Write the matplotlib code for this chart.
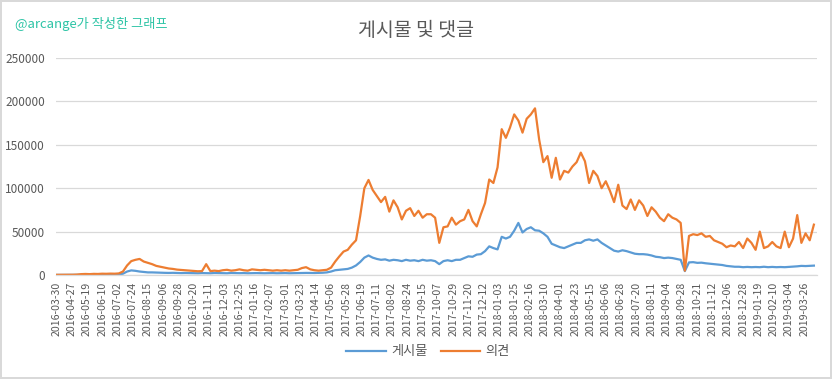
import numpy as np
import matplotlib
matplotlib.use("Agg")
import matplotlib.pyplot as plt

plt.rcParams['font.family'] = ['Noto Sans CJK KR', 'DejaVu Sans']

# daily category axis, sampled every 6 days (values in thousands)
STEP = 6
N_DAYS = 1097

tick_labels = [
    "2016-03-30", "2016-04-27", "2016-05-19", "2016-06-10", "2016-07-02", "2016-07-24",
    "2016-08-15", "2016-09-06", "2016-09-28", "2016-10-20", "2016-11-11", "2016-12-03",
    "2016-12-25", "2017-01-16", "2017-02-07", "2017-03-01", "2017-03-23", "2017-04-14",
    "2017-05-06", "2017-05-28", "2017-06-19", "2017-07-11", "2017-08-02", "2017-08-24",
    "2017-09-15", "2017-10-07", "2017-10-29", "2017-11-20", "2017-12-12", "2018-01-03",
    "2018-01-25", "2018-02-16", "2018-03-10", "2018-04-01", "2018-04-23", "2018-05-15",
    "2018-06-06", "2018-06-28", "2018-07-20", "2018-08-11", "2018-09-04", "2018-09-28",
    "2018-10-21", "2018-11-12", "2018-12-06", "2018-12-28", "2019-01-19", "2019-02-10",
    "2019-03-04", "2019-03-26",
]
TICK_EVERY = 22

posts_k = [
    0.1, 0.1, 0.1, 0.1, 0.1, 0.2,
    0.3, 0.3, 0.3, 0.4, 0.4, 0.4, 0.5, 0.5, 0.5, 0.6,
    1.5, 4.0, 5.3, 4.8, 4.0, 3.5, 3.0, 3.0, 2.8, 2.6,
    2.5, 2.4, 2.5, 2.3, 2.2, 2.3, 2.2, 2.1, 2.0, 2.2,
    2.1, 2.0, 2.3, 2.2, 2.1, 2.0, 2.3, 2.2, 2.1, 2.2,
    2.0, 2.1, 2.2, 2.1, 2.0, 2.1, 2.2, 2.0, 2.1, 2.2,
    2.0, 2.1, 2.2, 2.3, 2.4, 2.3, 2.3, 2.4, 2.6, 3.0,
    4.0, 5.5, 6.0, 6.5, 7.0, 8.5, 11.0, 15.0, 20.0, 22.5,
    20.0, 18.5, 17.5, 18.0, 16.5, 17.5, 17.0, 16.0, 17.5, 16.5,
    17.0, 16.0, 17.5, 16.5, 17.0, 16.0, 12.5, 16.0, 17.0, 16.0,
    17.5, 17.5, 19.5, 21.5, 21.0, 23.5, 24.0, 27.5, 33.0, 31.0,
    29.5, 44.0, 42.0, 44.0, 51.0, 60.0, 49.0, 53.0, 55.0, 51.5,
    51.0, 48.0, 44.0, 36.0, 34.0, 32.0, 31.0, 33.0, 35.0, 37.0,
    37.0, 40.0, 41.0, 39.5, 41.0, 37.0, 34.0, 31.0, 28.0, 27.0,
    28.5, 27.5, 26.0, 24.5, 24.0, 24.0, 23.5, 22.5, 21.0, 20.5,
    19.5, 20.0, 19.5, 18.5, 17.5, 4.5, 14.5, 14.8, 14.0, 14.2,
    13.5, 13.0, 12.5, 12.0, 11.5, 10.5, 10.0, 9.5, 9.5, 9.0,
    9.3, 9.0, 9.2, 9.0, 9.5, 9.0, 9.3, 9.0, 9.2, 9.0,
    9.3, 9.5, 10.0, 10.5, 10.3, 10.5, 10.8,
]

comments_k = [
    0.2, 0.2, 0.3, 0.3, 0.3, 0.5,
    1.0, 1.2, 1.0, 1.3, 1.2, 1.5, 1.4, 1.6, 1.5, 1.8,
    4.0, 11.0, 16.0, 17.5, 18.5, 15.5, 14.0, 12.5, 10.5, 9.5,
    8.5, 7.5, 7.0, 6.2, 5.8, 5.5, 5.0, 4.5, 4.3, 4.5,
    12.5, 4.5, 5.0, 4.5, 5.5, 6.0, 5.0, 5.5, 6.5, 5.5,
    5.0, 6.5, 6.0, 5.5, 6.0, 5.5, 5.0, 5.5, 5.0, 5.5,
    5.0, 5.5, 6.0, 8.0, 9.0, 6.5, 5.5, 5.0, 5.5, 6.0,
    8.5, 15.5, 21.5, 27.0, 29.0, 35.0, 40.0, 68.0, 100.0, 109.5,
    98.0, 91.0, 84.0, 90.0, 73.0, 86.0, 78.0, 64.0, 74.0, 77.0,
    68.0, 74.0, 66.0, 70.0, 70.0, 66.0, 37.0, 55.0, 56.0, 66.0,
    58.0, 62.0, 64.0, 75.0, 62.0, 56.0, 70.0, 83.0, 110.0, 106.0,
    124.0, 168.0, 158.0, 170.0, 185.0, 178.0, 164.0, 180.0, 185.0, 192.0,
    156.0, 130.0, 137.0, 112.0, 135.0, 110.0, 120.0, 118.0, 125.0, 130.0,
    141.0, 131.0, 106.0, 120.0, 114.0, 100.0, 108.0, 97.0, 84.0, 104.0,
    80.0, 76.0, 87.0, 75.0, 86.0, 80.0, 68.0, 78.0, 73.0, 66.0,
    62.0, 70.0, 66.0, 64.0, 60.0, 5.0, 45.0, 47.0, 46.0, 48.0,
    44.0, 45.0, 40.0, 38.0, 36.0, 32.0, 34.0, 33.0, 38.0, 31.0,
    42.0, 37.0, 29.0, 50.0, 31.0, 33.0, 38.0, 33.0, 31.0, 50.0,
    32.0, 42.0, 69.0, 37.0, 48.0, 40.0, 58.0,
]

posts = np.array(posts_k) * 1000
comments = np.array(comments_k) * 1000
x = np.arange(len(posts)) * STEP

text_gray = '#595959'
fig = plt.figure(figsize=(8.32, 3.79), dpi=100)
fig.patch.set_edgecolor('#d9d9d9')
fig.patch.set_linewidth(1.5)

ax = fig.add_axes([56 / 832, 1 - 275 / 379, 761 / 832, 217 / 379])
ax.plot(x, posts, color='#5B9BD5', lw=1.6, label='게시물')
ax.plot(x, comments, color='#ED7D31', lw=1.6, label='의견')

ax.set_xlim(-0.5, N_DAYS - 0.5)
ax.set_ylim(0, 250000)
ax.set_yticks(np.arange(0, 250001, 50000))
ax.yaxis.grid(True, color='#d9d9d9', lw=0.9)
ax.set_axisbelow(True)
for s in ['top', 'right', 'left']:
    ax.spines[s].set_visible(False)
ax.spines['bottom'].set_color('#d9d9d9')
ax.spines['bottom'].set_linewidth(0.9)

ax.set_xticks(np.arange(len(tick_labels)) * TICK_EVERY)
ax.set_xticklabels(tick_labels, rotation=90, fontsize=7.6, color=text_gray)
ax.tick_params(axis='x', length=0, pad=5)
ax.tick_params(axis='y', length=0, pad=8, labelsize=8.5, labelcolor=text_gray)

fig.text(0.5, 1 - 30 / 379, '게시물 및 댓글', ha='center', va='center',
         fontsize=14, color=text_gray)
fig.text(15 / 832, 1 - 24 / 379, '@arcange가 작성한 그래프', ha='left', va='center',
         fontsize=9.5, color='#2ec4a6')

fig.legend(loc='center', bbox_to_anchor=(428 / 832, 1 - 352 / 379), ncol=2, frameon=False,
           fontsize=9.5, labelcolor=text_gray, handlelength=3.0, columnspacing=1.0,
           handletextpad=0.4)

fig.savefig('out.png', dpi=100)
